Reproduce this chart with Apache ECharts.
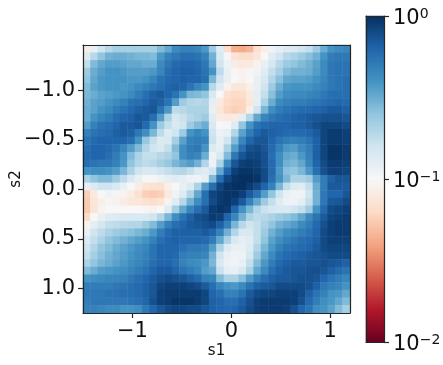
<!DOCTYPE html>
<html>
<head>
<meta charset="utf-8">
<style>
  html, body { margin: 0; padding: 0; background: #fff; }
  #chart { width: 443px; height: 365px; }
</style>
<script src="https://cdn.jsdelivr.net/npm/echarts@6/dist/echarts.min.js"></script>
</head>
<body>
<div id="chart"></div>
<script>
const levelRows = [
  [46,54,60,64,67,67,67,67,67,67,72,76,82,84,84,83,79,68,56,41,32,31,33,42,47,52,55,57,58,60,62,68,75,80,82,83],
  [57,64,70,74,75,75,74,73,73,72,79,84,86,88,88,87,84,74,58,51,43,41,41,44,50,56,60,64,66,68,71,74,80,85,86,86],
  [62,72,76,78,78,77,76,76,75,75,82,86,89,90,90,89,86,76,60,53,46,45,45,48,54,59,64,68,70,72,74,77,82,86,87,87],
  [68,75,78,80,80,79,78,78,78,79,83,88,90,91,91,90,87,80,63,54,49,48,49,52,56,62,67,72,74,74,75,78,82,86,87,87],
  [70,76,79,80,80,80,79,79,80,83,87,89,90,91,90,90,88,73,60,54,50,48,50,54,58,65,71,76,77,77,78,80,83,86,87,88],
  [72,77,79,80,80,79,80,82,84,86,88,90,91,90,87,83,80,64,56,48,44,44,47,54,60,68,75,79,80,80,80,82,84,86,87,88],
  [73,75,77,78,79,80,82,85,88,91,92,90,87,80,73,72,70,58,50,42,40,41,45,55,62,71,78,81,82,82,83,84,86,88,88,88],
  [74,77,78,80,82,84,87,88,90,92,91,87,78,68,65,64,65,55,45,40,39,39,44,55,66,75,82,84,85,85,86,87,88,89,90,89],
  [75,77,80,82,85,87,89,91,92,93,87,79,63,64,66,66,66,54,44,39,38,39,47,60,73,81,85,87,88,89,89,90,91,92,92,91],
  [75,80,83,85,88,90,91,93,92,88,78,66,59,61,64,66,68,56,46,45,46,55,65,76,83,86,88,89,90,91,92,93,94,94,94,93],
  [78,84,87,88,90,92,92,93,89,80,68,62,58,60,68,72,75,58,50,51,56,70,80,87,89,90,90,90,91,91,92,94,96,96,96,95],
  [84,87,88,89,91,92,91,86,81,73,63,57,60,68,80,83,80,60,53,54,65,77,85,90,92,91,90,89,89,89,90,92,96,98,98,97],
  [87,89,90,90,90,90,88,80,69,62,57,58,67,77,84,85,84,61,54,60,72,83,90,93,93,90,87,85,84,85,87,91,96,98,98,97],
  [88,90,90,89,87,83,78,72,65,60,58,62,72,81,85,86,80,57,55,66,78,88,94,95,93,89,84,79,78,82,85,91,96,99,99,98],
  [89,90,90,88,85,80,72,66,62,62,64,66,70,81,84,83,75,53,58,72,86,93,96,96,94,88,81,76,75,79,84,91,96,99,99,98],
  [88,87,86,86,84,79,70,65,63,64,67,69,73,76,78,74,65,53,66,82,93,97,98,97,94,89,81,74,73,76,83,90,95,98,98,97],
  [80,81,81,80,78,73,66,60,58,58,60,62,64,65,62,58,56,60,76,90,97,99,99,98,95,89,79,71,70,73,79,88,94,97,97,96],
  [66,70,72,72,68,63,58,54,51,51,53,55,56,55,53,52,55,72,88,96,99,100,100,99,95,88,80,73,66,66,68,78,85,91,93,93],
  [54,57,60,60,58,54,50,46,43,42,42,47,50,54,57,66,78,88,96,99,100,100,98,95,90,84,73,62,57,56,62,75,85,92,92,92],
  [38,45,50,52,51,48,46,42,38,37,38,45,52,57,65,76,88,96,98,99,99,97,92,87,78,70,60,54,52,52,60,74,86,90,90,93],
  [37,44,47,49,48,46,44,44,42,41,43,48,56,64,74,81,88,95,98,99,97,92,84,76,68,62,56,53,53,55,62,74,86,92,93,95],
  [37,43,48,50,50,50,50,50,49,48,50,56,67,76,83,88,92,98,99,98,90,80,73,65,61,59,58,58,60,62,68,80,89,95,96,97],
  [40,50,54,56,57,58,58,58,58,60,65,73,81,87,91,94,95,98,97,90,83,74,66,63,64,66,68,70,72,76,82,87,92,96,97,98],
  [48,55,59,62,63,64,65,65,68,72,78,84,88,90,92,93,94,95,91,84,73,64,60,62,66,70,74,76,78,82,85,89,94,97,98,98],
  [54,60,63,66,68,70,71,73,75,79,85,89,91,91,91,91,92,90,84,74,65,58,58,62,68,74,78,81,83,85,87,90,95,97,98,98],
  [57,62,66,70,72,74,76,78,80,84,88,90,91,90,90,90,89,85,76,66,58,55,56,62,70,77,81,84,86,88,89,91,95,97,97,97],
  [60,65,70,72,75,77,79,81,83,87,90,90,90,88,86,86,85,78,66,57,54,54,57,65,73,79,84,87,88,89,90,92,95,96,96,96],
  [62,67,71,74,76,78,80,82,84,87,90,90,89,85,84,84,83,74,60,54,52,53,59,68,76,82,87,89,90,91,92,93,94,95,95,95],
  [66,70,73,75,77,79,81,83,85,88,90,90,88,84,82,81,79,73,58,53,52,54,62,72,79,85,89,91,92,92,93,93,94,93,92,91],
  [72,75,78,79,80,81,83,85,87,90,92,92,90,87,85,83,78,76,61,55,54,58,66,76,82,88,91,92,93,93,94,94,93,91,89,87],
  [80,81,82,83,83,84,86,88,90,92,94,95,94,93,91,89,84,83,72,66,66,71,78,84,88,91,92,92,93,94,94,93,90,87,85,83],
  [85,85,85,85,86,87,88,89,91,93,96,97,97,97,96,95,92,88,83,80,79,82,87,91,92,93,95,95,95,95,94,91,86,84,83,80],
  [86,86,86,87,87,88,88,89,91,93,97,98,98,98,98,98,96,90,88,84,84,87,92,95,96,96,97,97,97,95,91,87,84,80,79,76],
  [85,86,86,86,86,86,87,88,90,94,97,98,99,99,99,98,96,91,90,88,88,91,94,97,98,98,98,98,97,94,89,85,81,79,76,72],
  [84,84,83,82,82,80,80,81,86,90,93,95,96,96,95,95,93,91,90,89,90,92,95,97,98,98,98,97,94,90,87,81,80,77,72,67]
];
const s1Ticks = [-1, 0, 1];
const s2Ticks = [-1, -0.5, 0, 0.5, 1];
const rdBu = ['#67001f', '#b2182b', '#d6604d', '#f4a582', '#fddbc7', '#f7f7f7', '#d1e5f0', '#92c5de', '#4393c3', '#2166ac', '#053061'];

const ink = '#111';
const spine = { color: '#262626', width: 1.2 };
const tickFont = { fontFamily: 'DejaVu Sans', fontSize: 21, color: ink };
const nameFont = { fontFamily: 'DejaVu Sans', fontSize: 15, color: ink };

var heatData = [];
levelRows.forEach(function (row, r) {
  row.forEach(function (level, c) {
    heatData.push([c, r, level / 50 - 2]);
  });
});

// colour bar ramp, 2px per step, drawn as its own heatmap so the corners stay square
var barSteps = [];
var barData = [];
for (var i = 0; i < 163; i++) {
  barSteps.push(i);
  barData.push([0, i, (i + 0.5) / 163 * 2 - 2]);
}

var minus = function (s) { return String(s).replace('-', '\u2212'); };

var chart = echarts.init(document.getElementById('chart'));
chart.setOption({
  animation: false,
  backgroundColor: '#fff',
  grid: [
    { left: 83, top: 45, width: 267, height: 268, outerBoundsMode: 'none' },
    { left: 366, top: 16, width: 18, height: 326, outerBoundsMode: 'none' }
  ],
  xAxis: [
    {
      type: 'category', gridIndex: 0, position: 'top', z: 5,
      data: levelRows[0].map(function (v, i) { return i; }),
      axisTick: { show: false }, axisLabel: { show: false },
      axisLine: { onZero: false, lineStyle: spine }
    },
    {
      type: 'value', gridIndex: 0, position: 'bottom', z: 5,
      min: -1.5, max: 1.2, splitLine: { show: false },
      name: 's1', nameLocation: 'middle', nameGap: 31, nameMoveOverlap: false,
      nameTextStyle: nameFont,
      axisLine: { onZero: false, lineStyle: spine },
      axisTick: { length: 5, customValues: s1Ticks, lineStyle: spine },
      axisLabel: Object.assign({ customValues: s1Ticks, margin: 8, formatter: minus }, tickFont)
    },
    {
      type: 'category', gridIndex: 1, position: 'bottom', z: 5, data: [0],
      axisTick: { show: false }, axisLabel: { show: false },
      axisLine: { onZero: false, lineStyle: spine }
    },
    {
      type: 'value', gridIndex: 1, position: 'top', z: 5, min: 0, max: 1,
      splitLine: { show: false }, axisTick: { show: false }, axisLabel: { show: false },
      axisLine: { onZero: false, lineStyle: spine }
    }
  ],
  yAxis: [
    {
      type: 'category', gridIndex: 0, position: 'right', inverse: true, z: 5,
      data: levelRows.map(function (v, i) { return i; }),
      axisTick: { show: false }, axisLabel: { show: false },
      axisLine: { onZero: false, lineStyle: spine }
    },
    {
      type: 'value', gridIndex: 0, position: 'left', inverse: true, z: 5,
      min: -1.46, max: 1.25, splitLine: { show: false },
      name: 's2', nameLocation: 'middle', nameGap: 59, nameMoveOverlap: false,
      nameTextStyle: nameFont,
      axisLine: { show: true, onZero: false, lineStyle: spine },
      axisTick: { show: true, length: 5, customValues: s2Ticks, lineStyle: spine },
      axisLabel: Object.assign({
        customValues: s2Ticks, margin: 8, padding: [4, 0, 0, 0],
        formatter: function (v) { return minus(v.toFixed(1)); }
      }, tickFont)
    },
    {
      type: 'category', gridIndex: 1, position: 'left', z: 5, data: barSteps,
      axisTick: { show: false }, axisLabel: { show: false },
      axisLine: { show: true, onZero: false, lineStyle: spine }
    },
    {
      type: 'value', gridIndex: 1, position: 'right', min: -2, max: 0, interval: 1, z: 5,
      splitLine: { show: false },
      axisLine: { show: true, onZero: false, lineStyle: spine },
      axisTick: { show: true, length: 5, lineStyle: spine },
      axisLabel: {
        margin: 9, padding: [6, 0, 0, 0],
        formatter: function (v) { return '{b|10}{e|' + minus(v) + '}'; },
        rich: {
          b: { fontFamily: 'DejaVu Sans', fontSize: 21, color: ink },
          e: { fontFamily: 'DejaVu Sans', fontSize: 14, color: ink, padding: [0, 0, 10, 0] }
        }
      }
    }
  ],
  visualMap: {
    type: 'continuous', show: false, seriesIndex: [0, 1], dimension: 2,
    min: -2, max: 0,
    inRange: { color: rdBu }
  },
  series: [
    { type: 'heatmap', xAxisIndex: 0, yAxisIndex: 0, data: heatData, progressive: 0 },
    { type: 'heatmap', xAxisIndex: 2, yAxisIndex: 2, data: barData, progressive: 0 }
  ]
});
</script>
</body>
</html>
